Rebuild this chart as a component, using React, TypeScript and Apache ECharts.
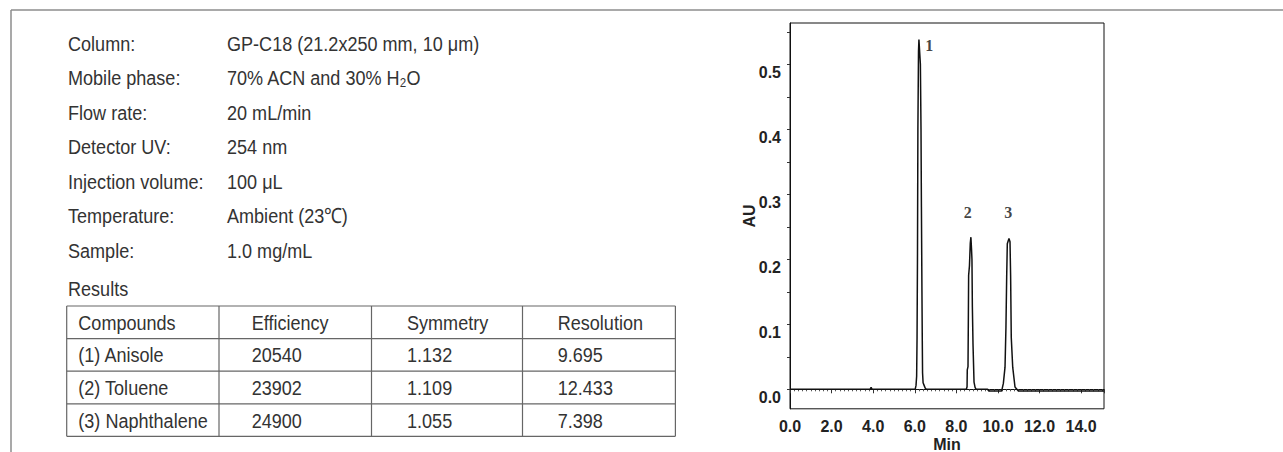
import React, { useEffect, useRef } from "react";
import * as echarts from "echarts";

// ---------- Data ----------
const conditionLabels = [
  "Column:",
  "Mobile phase:",
  "Flow rate:",
  "Detector UV:",
  "Injection volume:",
  "Temperature:",
  "Sample:",
];
const conditionValues = [
  "GP-C18 (21.2x250 mm, 10 μm)",
  "70% ACN and 30% H₂O",
  "20 mL/min",
  "254 nm",
  "100 μL",
  "Ambient (23℃)",
  "1.0 mg/mL",
];
const resultsTitle = "Results";
const tableHeader = ["Compounds", "Efficiency", "Symmetry", "Resolution"];
const compounds = ["(1) Anisole", "(2) Toluene", "(3) Naphthalene"];
const efficiency = ["20540", "23902", "24900"];
const symmetry = ["1.132", "1.109", "1.055"];
const resolution = ["9.695", "12.433", "7.398"];

// chromatogram trace (time in min, absorbance in AU)
const retentionTimes = [
  0, 3.85, 3.9, 3.95,
  6.02, 6.06, 6.09, 6.11, 6.13, 6.15, 6.18, 6.2, 6.27, 6.3, 6.32, 6.345, 6.36, 6.375, 6.4, 6.45, 6.5, 6.55,
  8.48, 8.515, 8.525, 8.56, 8.575, 8.59, 8.63, 8.67, 8.7, 8.73, 8.75, 8.77, 8.8, 8.85, 8.9, 8.95,
  9.5, 9.56, 10.18, 10.26, 10.34, 10.385, 10.42, 10.45, 10.53, 10.58, 10.61, 10.64, 10.71, 10.82, 10.98,
  15.1,
];
const absorbance = [
  0, 0, 0.003, 0,
  0, 0.006, 0.02, 0.08, 0.2, 0.4, 0.52, 0.538, 0.5, 0.4, 0.28, 0.15, 0.08, 0.025, 0.01, 0.006, 0.002, 0,
  0, 0.004, 0.03, 0.035, 0.1, 0.175, 0.19, 0.225, 0.234, 0.215, 0.2, 0.127, 0.07, 0.011, 0.003, 0,
  0, -0.0025, -0.0025, 0.009, 0.034, 0.096, 0.173, 0.224, 0.232, 0.227, 0.173, 0.08, 0.034, 0.0035, -0.0025,
  -0.0025,
];

const peakNames = ["1", "2", "3"];
const peakLabelTimes = [6.7, 8.55, 10.5];
const peakLabelAU = [0.529, 0.272, 0.272];

const yTickValues = [0, 0.05, 0.1, 0.15, 0.2, 0.25, 0.3, 0.35, 0.4, 0.45, 0.5, 0.55];
const yLabelValues = [0, 0.1, 0.2, 0.3, 0.4, 0.5];

// ---------- Layout ----------
const W = 1283;
const H = 452;
const TEXT_FONT = "'Liberation Sans', Arial, sans-serif";
const AXIS_FONT = "'Liberation Sans', Arial, sans-serif";
const PANEL_SCALE = 0.86;
const PANEL_SIZE = 21;
const labelX = 68;
const valueX = 227;
const rowY0 = 43.3;
const rowStep = 34.45;
const tableCols = [66.7, 219, 371.5, 522.5, 675.4];
const tableRowsY = [306, 338.7, 371.2, 403.8, 436.3];
const cellPad = [11.6, 32.7, 35.5, 35.2];

function txt(text: string, x: number, y: number, size = PANEL_SIZE) {
  return {
    type: "text",
    x,
    y,
    scaleX: PANEL_SCALE,
    silent: true,
    style: {
      text,
      fontSize: size,
      fontFamily: TEXT_FONT,
      fill: "#333",
      align: "left",
      verticalAlign: "middle",
      textAlign: "left",
      textVerticalAlign: "middle",
    },
  };
}

function line(x1: number, y1: number, x2: number, y2: number, stroke: string, w: number) {
  return {
    type: "line",
    silent: true,
    shape: { x1, y1, x2, y2 },
    style: { stroke, lineWidth: w },
  };
}

export default function App() {
  const ref = useRef<HTMLDivElement>(null);

  useEffect(() => {
    if (!ref.current) return;
    const chart = echarts.init(ref.current, undefined, { renderer: "svg" });

    const graphics: any[] = [];
    // outer frame (top & left only, clipped by the page)
    graphics.push(line(11, 10, W, 10, "#8c8c8c", 1.5));
    graphics.push(line(11, 10, 11, H, "#8c8c8c", 1.5));

    conditionLabels.forEach((l, i) => {
      graphics.push(txt(l, labelX, rowY0 + i * rowStep));
      graphics.push(txt(conditionValues[i], valueX, rowY0 + i * rowStep));
    });
    graphics.push(txt(resultsTitle, labelX, 288.5));

    // table grid
    tableRowsY.forEach((y) => graphics.push(line(tableCols[0], y, tableCols[tableCols.length - 1], y, "#666", 1.2)));
    tableCols.forEach((x) => graphics.push(line(x, tableRowsY[0], x, tableRowsY[tableRowsY.length - 1], "#666", 1.2)));

    const rows = [tableHeader, ...compounds.map((c, i) => [c, efficiency[i], symmetry[i], resolution[i]])];
    rows.forEach((r, ri) => {
      const yc = (tableRowsY[ri] + tableRowsY[ri + 1]) / 2;
      r.forEach((cell, ci) => {
        graphics.push(txt(cell, tableCols[ci] + cellPad[ci], yc));
      });
    });

    const traceData = retentionTimes.map((t, i) => [t, absorbance[i]]);
    const peakLabelData = peakLabelTimes.map((t, i) => [t, peakLabelAU[i]]);

    const axisText = { fontFamily: AXIS_FONT, fontSize: 16, fontWeight: "bold", color: "#222" };

    chart.setOption({
      animation: false,
      backgroundColor: "#fff",
      grid: {
        left: 790,
        top: 23,
        width: 314,
        height: 385.8,
        show: true,
        borderColor: "#111",
        borderWidth: 1,
        containLabel: false,
        outerBoundsMode: "none",
      },
      xAxis: {
        type: "value",
        min: 0,
        max: 15.1,
        interval: 2,
        name: "Min",
        nameLocation: "middle",
        nameGap: 28,
        nameMoveOverlap: false,
        nameTextStyle: axisText,
        axisLine: { show: true, lineStyle: { color: "#111", width: 1 } },
        axisTick: { show: true, length: 4, lineStyle: { color: "#333" } },
        minorTick: { show: true, splitNumber: 10, length: 2, lineStyle: { color: "#555" } },
        splitLine: { show: false },
        axisLabel: {
          ...axisText,
          margin: 10,
          showMaxLabel: false,
          formatter: (v: number) => v.toFixed(1),
        },
      },
      yAxis: {
        type: "value",
        min: -0.03,
        max: 0.5635,
        name: "AU",
        nameLocation: "middle",
        nameGap: 33,
        nameMoveOverlap: false,
        nameTextStyle: axisText,
        axisLine: { show: true, lineStyle: { color: "#111", width: 1 } },
        axisTick: { show: true, length: 3, customValues: yTickValues, lineStyle: { color: "#333" } },
        splitLine: { show: false },
        axisLabel: {
          ...axisText,
          margin: 9,
          verticalAlign: "top",
          customValues: yLabelValues,
          formatter: (v: number) => v.toFixed(1),
        },
      },
      series: [
        {
          type: "line",
          data: traceData,
          showSymbol: false,
          symbol: "none",
          lineStyle: { color: "#111", width: 1.5 },
          z: 3,
        },
        {
          type: "scatter",
          data: peakLabelData,
          symbolSize: 2,
          silent: true,
          itemStyle: { color: "rgba(0,0,0,0)" },
          label: {
            show: true,
            position: "inside",
            formatter: (p: any) => peakNames[p.dataIndex],
            fontFamily: "'Liberation Serif', 'Times New Roman', serif",
            fontSize: 16,
            fontWeight: "bold",
            color: "#111",
          },
          z: 4,
        },
      ],
      graphic: { elements: graphics },
    });

    return () => chart.dispose();
  }, []);

  return (
    <div
      ref={ref}
      style={{ position: "fixed", left: 0, top: 0, width: W, height: H, background: "#fff" }}
    />
  );
}
